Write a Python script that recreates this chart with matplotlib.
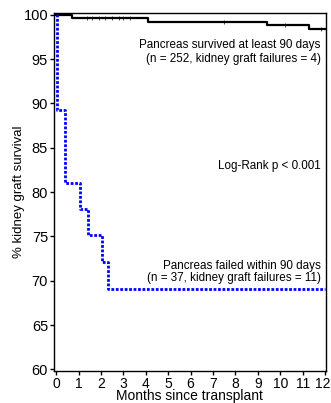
import numpy as np
import matplotlib
matplotlib.use("Agg")
import matplotlib.pyplot as plt
import matplotlib.transforms as mtransforms

plt.rcParams['font.family'] = ['Liberation Sans', 'DejaVu Sans']

# Kaplan-Meier steps (months, % survival)
survived_t = [0, 0.7, 4.1, 9.4, 11.3, 12]
survived_s = [100, 99.6, 99.2, 98.8, 98.4, 98.4]
censor_t = [1.4, 1.6, 1.9, 2.2, 2.5, 2.8, 3.0, 3.3, 7.5, 10.2, 11.8]

failed_t = [0, 0.03, 0.06, 0.4, 1.07, 1.43, 2.04, 2.33, 12]
failed_s = [100, 91.9, 89.2, 81.0, 78.1, 75.1, 72.1, 69.1, 69.1]

xticks = np.arange(0, 13)
yticks = [60, 65, 70, 75, 80, 85, 90, 95, 100]

fig = plt.figure(figsize=(3.31, 4.03), dpi=100)
ax = fig.add_axes([0.162, 0.079, 0.823, 0.889])

ax.step(survived_t, survived_s, where='post', color='black', lw=1.6)
# censored patients drawn as small ticks on the curve
cs = [survived_s[np.searchsorted(survived_t, t, side='right') - 1] for t in censor_t]
ax.plot(censor_t, cs, ls='none', marker='|', ms=2.5, mew=0.5, color='black')
ax.step(failed_t, failed_s, where='post', color='#0000ff', lw=2, ls=(0, (1, 0.6)))

ax.set_xlim(-0.11, 12.04)
ax.set_ylim(59.8, 100.2)
ax.set_xticks(xticks)
ax.set_yticks(yticks)
ax.tick_params(labelsize=10.5, length=3, width=1, pad=1)
ax.tick_params(axis='x', labelsize=10)
for s in ax.spines.values():
    s.set_linewidth(1)

# keep the last month label inside the figure edge
last = ax.get_xticklabels()[-1]
last.set_transform(last.get_transform() +
                   mtransforms.ScaledTranslation(-2 / 72, 0, fig.dpi_scale_trans))

ax.set_xlabel('Months since transplant', fontsize=10)
ax.set_ylabel('% kidney graft survival', fontsize=9.5)
ax.xaxis.set_label_coords(0.5, -0.051)
ax.yaxis.set_label_coords(-0.105, 0.5)

kw = dict(ha='right', va='center', fontsize=8.4)
ax.text(11.8, 96.6, 'Pancreas survived at least 90 days', **kw)
ax.text(11.8, 95.05, '(n = 252, kidney graft failures = 4)', **kw)
ax.text(11.8, 82.9, 'Log-Rank p < 0.001', **kw)
ax.text(11.8, 71.7, 'Pancreas failed within 90 days', **kw)
ax.text(11.8, 70.3, '(n = 37, kidney graft failures = 11)', **kw)

fig.savefig('out.png', dpi=100)
